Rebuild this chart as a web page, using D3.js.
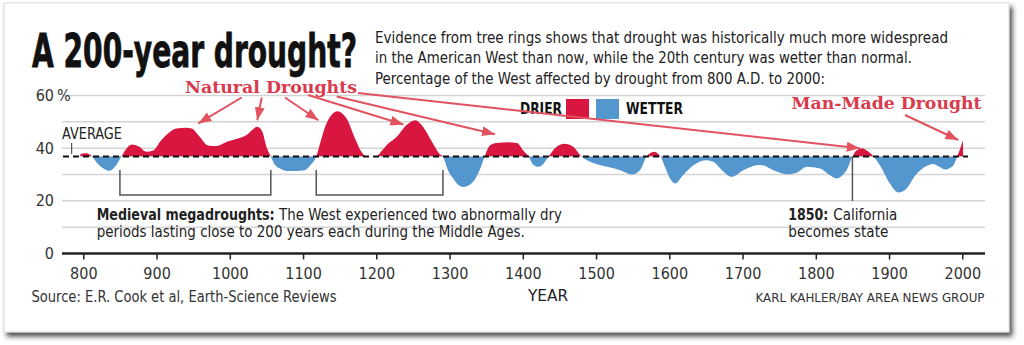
<!DOCTYPE html>
<html><head><meta charset="utf-8">
<script src="https://cdn.jsdelivr.net/npm/d3@7"></script>
<style>
html,body{margin:0;padding:0;background:#fff;}
svg{display:block;}
text{font-family:'Liberation Sans Narrow','DejaVu Sans Condensed','DejaVu Sans',sans-serif;}
.slab{font-family:'DejaVu Serif',serif;font-weight:bold;}
</style></head>
<body>
<script>
// ---- data ----
const years = [796,803,809,812,820,828,836,844,852,858,866,876,886,896,905,914,927,940,948,959,970,982,996,1010,1023,1031,1037,1044,1050,1056,
  1062,1069,1080,1090,1102,1110,1118,1124,1130,1140,1147,1153,1160,1171,1180,1187,1200,1207,1214,1228,1241,1253,1264,1276,1287,1291,
  1298,1305,1312,1319,1327,1333,1341,1348,1355,1364,1380,1392,1401,1408,1414,1421,1428,1435,1445,1457,1469,1480,
  1492,1505,1515,1533,1549,1560,1569,1575,1580,1584,1588,1594,1601,1608,1619,1633,1651,1660,1672,1685,1701,1719,1725,1742,
  1760,1774,1788,1806,1818,1828,1842,1850,1856,1863,1871,1879,1890,1901,1913,1924,1936,1951,1960,1968,1976,1983,1988,1993,2001];
const values = [37.8,38.1,37.6,36.8,34.0,32.2,31.4,33.2,36.8,39.5,41.4,40.6,38.6,39.2,42.5,45.2,47.5,47.8,47.5,44.3,41.0,40.8,42.4,43.6,45.0,47.0,48.1,46.5,40.5,36.8,
  33.5,32.2,31.3,31.3,31.6,33.5,36.8,42.5,48.0,53.0,54.0,53.3,51.0,43.7,38.5,36.8,36.8,38.8,41.1,44.3,48.7,50.6,48.0,42.4,37.6,36.8,
  31.5,28.5,26.0,25.3,26.0,27.5,31.6,36.8,41.0,42.0,42.2,42.0,39.0,36.8,33.8,32.9,34.0,36.8,40.3,41.7,40.5,36.8,
  34.8,33.6,32.9,31.6,30.0,31.6,36.8,38.3,38.6,38.0,36.8,32.9,28.5,26.6,29.8,33.5,35.4,34.8,31.6,29.1,31.6,33.5,33.6,31.6,
  30.1,30.7,32.9,32.3,30.0,28.5,31.6,36.8,39.2,40.0,38.8,36.8,32.3,26.6,23.2,24.7,29.7,33.2,34.0,33.0,31.9,32.5,33.5,36.8,43.0];
const averageValue = 36.8;
const xTickValues = [800,900,1000,1100,1200,1300,1400,1500,1600,1700,1800,1900,2000];
const gridValues = [10,20,30,40,50,60];
const yLabelValues = [0,20,40,60];
const megadroughts = [[850,1056],[1118,1291]];
const statehoodYear = 1850;
const naturalArrowTips = [[957,49.4],[1037.5,50.6],[1121,50.6],[1237,49.0],[1362,45.3],[1860,40.0]];
const manMadeArrowTip = [1994.5,43.1];
const legendItems = ["DRIER","WETTER"];

// ---- layout ----
const W = 1024, H = 345;
const RED = "#d8163f", BLUE = "#5497cf", ARROW = "#e2525f";
const svg = d3.select("body").append("svg").attr("width", W).attr("height", H);
const defs = svg.append("defs");
const f = defs.append("filter").attr("id","shadow").attr("x","-2%").attr("y","-5%").attr("width","105%").attr("height","115%");
f.append("feDropShadow").attr("dx",3).attr("dy",4).attr("stdDeviation",2.5).attr("flood-color","#222").attr("flood-opacity",0.8);
svg.append("rect").attr("x",4).attr("y",3).attr("width",1005).attr("height",329)
  .attr("fill","#fff").attr("stroke","#dadada").attr("filter","url(#shadow)");

const x = d3.scaleLinear().domain([800,2000]).range([83.3,962.3]);
const y = d3.scaleLinear().domain([0,60]).range([253.5,95.5]);
const yAvg = y(averageValue);

// gridlines
svg.append("g").selectAll("line").data(gridValues).join("line")
  .attr("x1",62).attr("x2",985).attr("y1",d=>y(d)).attr("y2",d=>y(d))
  .attr("stroke","#d4d4d4").attr("stroke-width",1.5);

// y labels
const yl = svg.append("g").attr("fill","#333").style("font-size","16px");
yl.selectAll("text").data(yLabelValues).join("text")
  .attr("x",54).attr("y",d=>y(d)+5.5).attr("text-anchor","end").text(d=>d);
yl.append("text").attr("x",57).attr("y",y(60)+5.5).text("%");

// area
const data = years.map((yr,i)=>({year:yr,value:values[i]}));
const area = d3.area().x(d=>x(d.year)).y0(yAvg).y1(d=>y(d.value)).curve(d3.curveMonotoneX);
defs.append("clipPath").attr("id","above").append("rect").attr("x",0).attr("y",0).attr("width",W).attr("height",yAvg);
defs.append("clipPath").attr("id","below").append("rect").attr("x",0).attr("y",yAvg).attr("width",W).attr("height",H-yAvg);
svg.append("path").datum(data).attr("d",area).attr("fill",RED).attr("clip-path","url(#above)");
svg.append("path").datum(data).attr("d",area).attr("fill",BLUE).attr("clip-path","url(#below)");

// average line
svg.append("line").attr("x1",63).attr("x2",968).attr("y1",yAvg).attr("y2",yAvg)
  .attr("stroke","#111").attr("stroke-width",2).attr("stroke-dasharray","6,4");
svg.append("text").attr("x",62).attr("y",138.5).attr("fill","#222").style("font-size","15px")
  .attr("textLength",60).attr("lengthAdjust","spacingAndGlyphs").text("AVERAGE");
svg.append("line").attr("x1",71.7).attr("x2",71.7).attr("y1",143).attr("y2",154).attr("stroke","#333").attr("stroke-width",1);

// x axis
const xAxis = d3.axisBottom(x).tickValues(xTickValues).tickSize(6).tickPadding(8).tickFormat(d3.format("d"));
const gx = svg.append("g").attr("transform",`translate(0,${y(0)})`).call(xAxis);
gx.select(".domain").remove();
gx.selectAll(".tick line").attr("stroke","#222").attr("stroke-width",1.5);
gx.selectAll(".tick text").attr("fill","#333").style("font-size","16px")
  .style("font-family","'Liberation Sans Narrow','DejaVu Sans Condensed',sans-serif");
svg.append("line").attr("x1",62).attr("x2",985).attr("y1",y(0)).attr("y2",y(0)).attr("stroke","#222").attr("stroke-width",2.5);

// megadrought brackets
svg.append("g").selectAll("path").data(megadroughts).join("path")
  .attr("d",d=>`M${x(d[0])},170V195H${x(d[1])}V170`).attr("fill","none").attr("stroke","#555").attr("stroke-width",1.5);
// 1850 line
svg.append("line").attr("x1",x(statehoodYear)).attr("x2",x(statehoodYear)).attr("y1",yAvg).attr("y2",201)
  .attr("stroke","#555").attr("stroke-width",1.5);

// title (narrow font size, stretched vertically)
svg.append("text").attr("transform","translate(32,66.5) scale(1,1.5)")
  .style("font-family","'DejaVu Sans Condensed','DejaVu Sans',sans-serif")
  .style("font-weight","bold").style("font-size","31.3px").attr("fill","#111").attr("stroke","#111").attr("stroke-width",0.55)
  .attr("textLength",325).attr("lengthAdjust","spacingAndGlyphs").text("A 200-year drought?");

// description
const desc = [
  ["Evidence from tree rings shows that drought was historically much more widespread",42.5,573],
  ["in the American West than now, while the 20th century was wetter than normal.",63,537],
  ["Percentage of the West affected by drought from 800 A.D. to 2000:",83.5,450]];
svg.append("g").selectAll("text").data(desc).join("text")
  .attr("x",375).attr("y",d=>d[1]).attr("fill","#222").style("font-size","15px")
  .attr("textLength",d=>d[2]).attr("lengthAdjust","spacingAndGlyphs").text(d=>d[0]);

// legend
svg.append("text").attr("x",520).attr("y",113.5).attr("fill","#111").style("font-size","15px").style("font-weight","bold")
  .attr("textLength",42).attr("lengthAdjust","spacingAndGlyphs").text(legendItems[0]);
svg.append("rect").attr("x",566).attr("y",99).attr("width",23).attr("height",20).attr("fill",RED);
svg.append("rect").attr("x",596).attr("y",99).attr("width",23).attr("height",20).attr("fill",BLUE);
svg.append("text").attr("x",626).attr("y",113.5).attr("fill","#111").style("font-size","15px").style("font-weight","bold")
  .attr("textLength",57).attr("lengthAdjust","spacingAndGlyphs").text(legendItems[1]);

// arrows
const mk = defs.append("marker").attr("id","ah").attr("markerUnits","userSpaceOnUse")
  .attr("markerWidth",14).attr("markerHeight",12).attr("refX",13).attr("refY",5).attr("orient","auto");
mk.append("path").attr("d","M0,0L13,5L0,10Z").attr("fill",ARROW);
const starts = [[241.7,97.5],[261.7,97.5],[285,97.5],[308,95],[336.7,96.5],[358,93]];
svg.append("g").selectAll("line").data(naturalArrowTips).join("line")
  .attr("x1",(d,i)=>starts[i][0]).attr("y1",(d,i)=>starts[i][1])
  .attr("x2",d=>x(d[0])).attr("y2",d=>y(d[1]))
  .attr("stroke",ARROW).attr("stroke-width",2).attr("marker-end","url(#ah)");
svg.append("line").attr("x1",905).attr("y1",115).attr("x2",x(manMadeArrowTip[0])).attr("y2",y(manMadeArrowTip[1]))
  .attr("stroke",ARROW).attr("stroke-width",2).attr("marker-end","url(#ah)");

svg.append("text").attr("class","slab").attr("x",185).attr("y",92.7).attr("fill","#d93a4c").style("font-size","16px")
  .attr("textLength",172).attr("lengthAdjust","spacingAndGlyphs").text("Natural Droughts");
svg.append("text").attr("class","slab").attr("x",791.5).attr("y",108.5).attr("fill","#d93a4c").style("font-size","16px")
  .attr("textLength",190).attr("lengthAdjust","spacingAndGlyphs").text("Man-Made Drought");

// annotations
const ann = svg.append("g").attr("fill","#222").style("font-size","16px");
ann.append("text").attr("x",96.7).attr("y",220).style("font-weight","bold")
  .attr("textLength",178).attr("lengthAdjust","spacingAndGlyphs").text("Medieval megadroughts:");
ann.append("text").attr("x",279).attr("y",220)
  .attr("textLength",283).attr("lengthAdjust","spacingAndGlyphs").text("The West experienced two abnormally dry");
ann.append("text").attr("x",96.7).attr("y",237)
  .attr("textLength",428).attr("lengthAdjust","spacingAndGlyphs").text("periods lasting close to 200 years each during the Middle Ages.");
ann.append("text").attr("x",788.3).attr("y",220).style("font-weight","bold")
  .attr("textLength",40).attr("lengthAdjust","spacingAndGlyphs").text("1850:");
ann.append("text").attr("x",833.3).attr("y",220)
  .attr("textLength",64).attr("lengthAdjust","spacingAndGlyphs").text("California");
ann.append("text").attr("x",788.3).attr("y",237)
  .attr("textLength",100).attr("lengthAdjust","spacingAndGlyphs").text("becomes state");

// footer
svg.append("text").attr("x",31.5).attr("y",302).attr("fill","#333").style("font-size","15px")
  .attr("textLength",305).attr("lengthAdjust","spacingAndGlyphs").text("Source: E.R. Cook et al, Earth-Science Reviews");
svg.append("text").attr("x",528).attr("y",301).attr("fill","#222").style("font-size","16px")
  .attr("textLength",40).attr("lengthAdjust","spacingAndGlyphs").text("YEAR");
svg.append("text").attr("x",755.5).attr("y",302).attr("fill","#333").style("font-size","13px")
  .attr("textLength",229).attr("lengthAdjust","spacingAndGlyphs").text("KARL KAHLER/BAY AREA NEWS GROUP");
</script>
</body></html>
